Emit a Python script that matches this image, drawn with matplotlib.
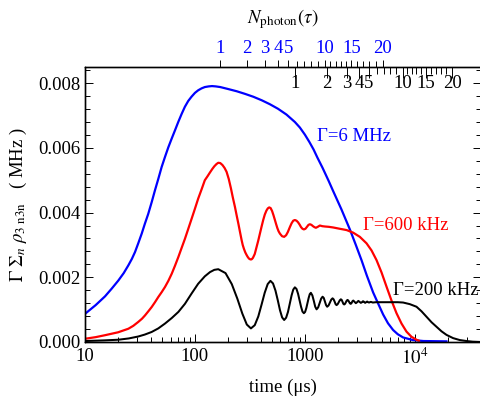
import matplotlib
matplotlib.use("Agg")
import matplotlib.pyplot as plt
from matplotlib.ticker import (FixedLocator, FixedFormatter, NullFormatter,
                               LogLocator, MultipleLocator, FormatStrFormatter)

# time in microseconds, Gamma * sum_n rho_3n3n in MHz
t_6mhz = [10, 12.5, 15.2, 17.5, 20.1, 22.5, 24.8, 26.7, 28.5, 30.5, 32.8, 35,
          37.6, 40.4, 43.3, 46.5, 49.8, 53.4, 57.3, 61.5, 65.8, 70.5, 75.7, 81,
          86.9, 93, 100, 107, 115, 123, 133, 143, 155, 170, 200, 240, 285, 340,
          406, 480, 569, 680, 811, 900, 1000, 1100, 1200, 1300, 1450, 1650, 1800,
          2150, 2566, 2900, 3275, 3664, 4180, 4650, 5150, 5700, 6350, 7000, 7830,
          9590, 12000, 19400]
v_6mhz = [0.00087, 0.00114, 0.00141, 0.00165, 0.00190, 0.00213, 0.00237, 0.00257,
          0.00278, 0.00305, 0.00335, 0.00365, 0.00396, 0.00432, 0.00469, 0.00505,
          0.00541, 0.00572, 0.00602, 0.00629, 0.00654, 0.00680, 0.00705, 0.00727,
          0.00745, 0.00758, 0.00770, 0.00778, 0.00784, 0.00788, 0.00790, 0.00791,
          0.00790, 0.00788, 0.00782, 0.00775, 0.00767, 0.00758, 0.00747, 0.00735,
          0.00721, 0.00703, 0.00680, 0.00663, 0.00641, 0.00618, 0.00595, 0.00570,
          0.00538, 0.00497, 0.00468, 0.00410, 0.00348, 0.00301, 0.00253, 0.00205,
          0.00153, 0.00118, 0.00085, 0.00058, 0.00037, 0.00024, 0.00014, 0.00006,
          0.00003, 0.00002]

t_600khz = [10, 12.5, 15.2, 20, 24.8, 27.5, 30.5, 33, 35.1, 37.7, 40.4, 43.3, 46.4,
            49.8, 53.4, 57.3, 61.5, 65.9, 70.7, 75.7, 81.1, 87, 93.3, 100, 107,
            115, 123, 130, 137, 144, 150, 157, 163, 170, 178, 186, 194, 203, 212.5,
            221, 231, 240, 248.6, 257, 265.8, 272, 279, 287, 295, 302, 309.7, 316,
            322.9, 329, 336.8, 350, 363.9, 377, 389.9, 404, 417.8, 432, 446.7, 460,
            473.8, 488, 503, 518, 534, 548, 562, 577, 593, 620, 648, 675, 700, 730,
            757, 784, 811, 839, 867, 895, 923, 951, 979, 1012, 1045, 1078, 1111,
            1148, 1185, 1222, 1259, 1310, 1369, 1440, 1520, 1650, 1809, 2074, 2394,
            2749, 3162, 3638, 4040, 4486, 4981, 5530, 6139, 6817, 7570, 8403, 9333,
            10360, 10874]
v_600khz = [0.00010, 0.00015, 0.00021, 0.00030, 0.00041, 0.00050, 0.00062, 0.00072,
            0.00082, 0.00095, 0.00108, 0.00123, 0.00139, 0.00154, 0.00170, 0.00189,
            0.00211, 0.00236, 0.00263, 0.00291, 0.00319, 0.00350, 0.00381, 0.00412,
            0.00443, 0.00472, 0.00500, 0.00512, 0.00524, 0.00535, 0.00543, 0.00550,
            0.00554, 0.00553, 0.00547, 0.00538, 0.00526, 0.00504, 0.00475, 0.00447,
            0.00418, 0.00390, 0.00365, 0.00340, 0.00315, 0.00300, 0.00288, 0.00277,
            0.00269, 0.00263, 0.00258, 0.00256, 0.00255, 0.00256, 0.00260, 0.00272,
            0.00294, 0.00314, 0.00335, 0.00357, 0.00377, 0.00394, 0.00406, 0.00413,
            0.00416, 0.00414, 0.00405, 0.00392, 0.00377, 0.00364, 0.00352, 0.00342,
            0.00335, 0.00327, 0.00325, 0.00330, 0.00340, 0.00355, 0.00367, 0.00375,
            0.00377, 0.00375, 0.00370, 0.00363, 0.00355, 0.00350, 0.00348, 0.00350,
            0.00356, 0.00362, 0.00364, 0.00362, 0.00358, 0.00355, 0.00353, 0.00356,
            0.00360, 0.00358, 0.00357, 0.00356, 0.00354, 0.00350, 0.00346, 0.00338,
            0.00325, 0.00305, 0.00283, 0.00253, 0.00215, 0.00171, 0.00128, 0.00089,
            0.00057, 0.00032, 0.00016, 0.00007, 0.00004]

t_200khz = [10, 15, 20.1, 25, 30.5, 35, 40.4, 46.4, 53.4, 61.5, 70.7, 81.1, 93.3,
            107, 123, 137, 150, 163, 189.7, 216.3, 243, 269.7, 296.3, 323, 350, 377,
            404, 431, 459, 486, 513, 540, 567, 594, 621, 648, 675, 702, 730, 757,
            784, 811, 839, 867, 895, 923, 951, 979, 1005, 1031, 1057, 1082, 1108,
            1134, 1170, 1206, 1242, 1278, 1321, 1364, 1406, 1449, 1486, 1522, 1559,
            1595, 1643, 1690, 1738, 1786, 1825, 1864, 1903, 1942, 1988, 2034, 2079,
            2125, 2163, 2201, 2239, 2277, 2319, 2361, 2403, 2445, 2485, 2525, 2564,
            2604, 2643, 2682, 2721, 2760, 2834, 2908, 2986, 3064, 3146, 3229, 3305,
            3381, 3457, 3533, 3608, 3684, 3760, 3834, 3908, 3981, 4066, 4151, 4421,
            5000, 5926, 7000, 7826, 9006, 10360, 11500, 12776, 14200, 15750, 17500,
            19420, 22300, 25650, 29500, 33690, 40000]
v_200khz = [0.00003, 0.00005, 0.00007, 0.00011, 0.00017, 0.00023, 0.00031, 0.00042,
            0.00057, 0.00074, 0.00093, 0.00118, 0.00150, 0.00180, 0.00203, 0.00216,
            0.00223, 0.00225, 0.00213, 0.00179, 0.00134, 0.00088, 0.00054, 0.00042,
            0.00052, 0.00079, 0.00116, 0.00152, 0.00179, 0.00189, 0.00181, 0.00159,
            0.00129, 0.00098, 0.00076, 0.00068, 0.00075, 0.00093, 0.00119, 0.00144,
            0.00162, 0.00169, 0.00164, 0.00149, 0.00129, 0.00109, 0.00094, 0.00089,
            0.00093, 0.00105, 0.00121, 0.00136, 0.00148, 0.00152, 0.00144, 0.00127,
            0.00109, 0.00101, 0.00107, 0.00121, 0.00134, 0.00140, 0.00136, 0.00125,
            0.00114, 0.00109, 0.00113, 0.00122, 0.00131, 0.00135, 0.00132, 0.00125,
            0.00117, 0.00114, 0.00117, 0.00123, 0.00129, 0.00132, 0.00130, 0.00124,
            0.00118, 0.00116, 0.00118, 0.00123, 0.00128, 0.00130, 0.00128, 0.00124,
            0.00120, 0.00118, 0.00119, 0.00123, 0.00127, 0.00128, 0.00124, 0.00120,
            0.00123, 0.00127, 0.00124, 0.00121, 0.00123, 0.00126, 0.00124, 0.00121,
            0.00123, 0.00125, 0.00123, 0.00122, 0.00123, 0.00124, 0.00123, 0.00122,
            0.00123, 0.00123, 0.00123, 0.00123, 0.00122, 0.00117, 0.00109, 0.00095,
            0.00078, 0.00061, 0.00047, 0.00033, 0.00022, 0.00012, 0.00006, 0.00003,
            0.00001, 0.0]

# photon number ticks (N = 1..20) and the times where they fall
photon_counts = list(range(1, 21))
photon_shown = [1, 2, 3, 4, 5, 10, 15, 20]
photon_t_6mhz = [168.8, 295.1, 433, 571.9, 705.1, 840.5, 989.7, 1146, 1321, 1520,
                 1705, 1913, 2134, 2375, 2647, 2970, 3368, 3859, 4421, 5118]
photon_t_200khz = [811.1, 1585, 2394, 3130, 3818, 4513, 5226, 5926, 6720, 7780,
                   8549, 9391, 10320, 11340, 12590, 13980, 15520, 17240, 19340, 21930]

time_ticks = [10, 100, 1000, 10000]
time_labels = ["10", "100", "1000", r"$10^4$"]

plt.rcParams["font.family"] = ["Liberation Serif", "DejaVu Serif"]
plt.rcParams["mathtext.fontset"] = "stix"
plt.rcParams["axes.linewidth"] = 0.9

FS = 13.5
BLUE = "#0000ff"
RED = "#ff0000"

fig = plt.figure(figsize=(4.8, 4.0), dpi=100)
ax = fig.add_axes([85 / 480, 58 / 400, 396 / 480, 275 / 400])

ax.plot(t_6mhz, v_6mhz, color=BLUE, lw=1.6)
ax.plot(t_600khz, v_600khz, color=RED, lw=1.6)
ax.plot(t_200khz, v_200khz, color="black", lw=1.45)

ax.set_xscale("log")
ax.set_xlim(10, 40000)
ax.set_ylim(0, 0.0085)

ax.xaxis.set_major_locator(FixedLocator(time_ticks))
ax.xaxis.set_major_formatter(FixedFormatter(time_labels))
ax.xaxis.set_minor_locator(LogLocator(base=10, subs=range(2, 10)))
ax.xaxis.set_minor_formatter(NullFormatter())
ax.yaxis.set_major_locator(MultipleLocator(0.002))
ax.yaxis.set_minor_locator(MultipleLocator(0.0004))
ax.yaxis.set_major_formatter(FormatStrFormatter("%.3f"))

ax.tick_params(axis="both", which="both", direction="in", labelsize=FS,
               width=0.7, right=True)
ax.tick_params(axis="both", which="major", length=6)
ax.tick_params(axis="both", which="minor", length=3.5)
ax.tick_params(axis="x", pad=4)
ax.tick_params(axis="y", pad=3)

ax.set_xlabel("time (μs)", fontsize=FS, labelpad=8)
ax.set_ylabel(r"$\Gamma\ \Sigma_n\ \rho_{3\ \mathrm{n3n}}$   ( MHz )",
              fontsize=FS, labelpad=7)

# top axis: photon number for Gamma = 6 MHz (outside, blue labels)
top = ax.twiny()
top.set_xscale("log")
top.set_xlim(ax.get_xlim())
top.xaxis.set_major_locator(FixedLocator(
    [t for n, t in zip(photon_counts, photon_t_6mhz) if n in photon_shown]))
top.xaxis.set_major_formatter(FixedFormatter([str(n) for n in photon_shown]))
top.xaxis.set_minor_locator(FixedLocator(
    [t for n, t in zip(photon_counts, photon_t_6mhz) if n not in photon_shown]))
top.xaxis.set_minor_formatter(NullFormatter())
top.tick_params(axis="x", which="both", direction="out", labelsize=FS,
                labelcolor=BLUE, width=0.7, pad=2.5)
top.tick_params(axis="x", which="major", length=5)
top.tick_params(axis="x", which="minor", length=4)
top.set_xlabel(r"$N_{\mathrm{photon}}(\tau)$", fontsize=FS, labelpad=12)

# top axis: photon number for Gamma = 200 kHz (inside, black labels)
top2 = ax.twiny()
top2.set_xscale("log")
top2.set_xlim(ax.get_xlim())
top2.xaxis.set_major_locator(FixedLocator(
    [t for n, t in zip(photon_counts, photon_t_200khz) if n in photon_shown]))
top2.xaxis.set_major_formatter(FixedFormatter([str(n) for n in photon_shown]))
top2.xaxis.set_minor_locator(FixedLocator(
    [t for n, t in zip(photon_counts, photon_t_200khz) if n not in photon_shown]))
top2.xaxis.set_minor_formatter(NullFormatter())
top2.tick_params(axis="x", which="both", direction="in", labelsize=FS,
                 labelcolor="black", width=0.7, pad=-18)
top2.tick_params(axis="x", which="major", length=8)
top2.tick_params(axis="x", which="minor", length=5)

ax.text(0.586, 0.749, "Γ=6 MHz", color=BLUE, fontsize=FS,
        transform=ax.transAxes, ha="left", va="center")
ax.text(0.702, 0.425, "Γ=600 kHz", color=RED, fontsize=FS,
        transform=ax.transAxes, ha="left", va="center")
ax.text(0.778, 0.189, "Γ=200 kHz", color="black", fontsize=FS,
        transform=ax.transAxes, ha="left", va="center", clip_on=False)

fig.savefig("out.png", dpi=100, facecolor="white")
